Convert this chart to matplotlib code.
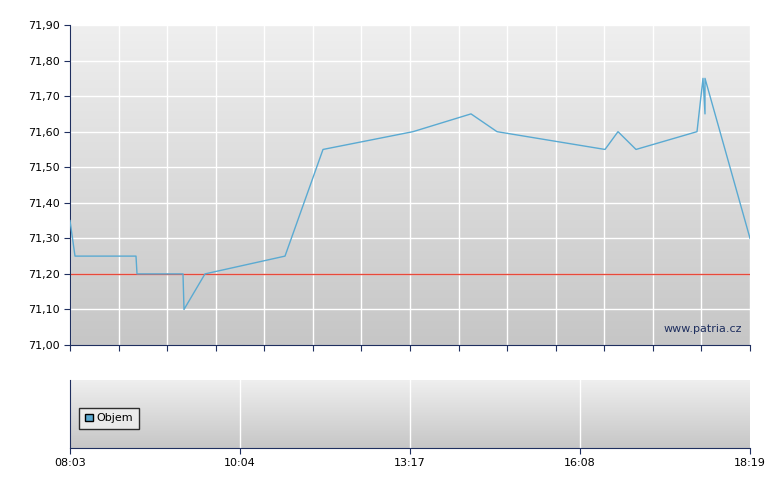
import numpy as np
import matplotlib.pyplot as plt
from matplotlib.patches import Patch
from matplotlib.colors import LinearSegmentedColormap

pos = [0, 5, 66, 67, 113, 114, 135, 215, 253, 343, 401, 427, 535, 548, 566, 627, 633, 635, 635, 680]
price = [71.35, 71.25, 71.25, 71.20, 71.20, 71.10, 71.20, 71.25, 71.55, 71.60, 71.65, 71.60,
         71.55, 71.60, 71.55, 71.60, 71.75, 71.65, 71.75, 71.30]
ref_price = 71.20
time_ticks = [0, 170, 340, 510, 680]
time_labels = ['08:03', '10:04', '13:17', '16:08', '18:19']

bg = LinearSegmentedColormap.from_list('bg', ['#efefef', '#c6c6c6'])

fig = plt.figure(figsize=(7.8, 4.9), dpi=100)
ax = fig.add_axes([70/780, 145/490, 680/780, 320/490])
ax2 = fig.add_axes([70/780, 42/490, 680/780, 68/490])

grad = np.linspace(0, 1, 256).reshape(-1, 1)
for a, ylim in ((ax, (71.0, 71.9)), (ax2, (0, 1))):
    a.imshow(grad, extent=[0, 680, ylim[0], ylim[1]], aspect='auto', cmap=bg,
             origin='upper', zorder=0)
    a.set_xlim(0, 680)
    a.set_ylim(*ylim)
    for s in ('top', 'right'):
        a.spines[s].set_visible(False)
    for s in ('left', 'bottom'):
        a.spines[s].set_color('#1f2f5f')

# main panel
for x in np.linspace(0, 680, 15):
    ax.axvline(x, color='white', lw=1, zorder=1)
for y in np.arange(71.1, 71.95, 0.1):
    ax.axhline(y, color='white', lw=1, zorder=1)
ax.axhline(ref_price, color='#e8493a', lw=1, zorder=2)
ax.plot(pos, price, color='#5aaad2', lw=1, zorder=3)
ax.set_yticks(np.arange(71.0, 71.95, 0.1))
ax.set_yticklabels([f'{v:.2f}'.replace('.', ',') for v in np.arange(71.0, 71.95, 0.1)], fontsize=8)
ax.set_xticks(np.linspace(0, 680, 15))
ax.set_xticklabels([])
ax.tick_params(direction='out', length=4, colors='#1f2f5f', labelcolor='black')
ax.text(672, 71.03, 'www.patria.cz', ha='right', va='bottom', fontsize=8, color='#1f2f5f', zorder=4)

# volume panel
for x in time_ticks[1:-1]:
    ax2.axvline(x, color='white', lw=1, zorder=1)
ax2.set_yticks([])
ax2.set_xticks(time_ticks)
ax2.set_xticklabels(time_labels, fontsize=8)
ax2.tick_params(direction='out', length=4, colors='#1f2f5f', labelcolor='black')
leg = ax2.legend(handles=[Patch(facecolor='#5aaad2', edgecolor='black', label='Objem')],
                 loc='lower left', fontsize=8, fancybox=False, handlelength=0.8,
                 handletextpad=0.3, borderpad=0.5, bbox_to_anchor=(0.005, 0.2))
leg.get_frame().set_edgecolor('black')
leg.get_frame().set_facecolor('#f0f0f0')

fig.savefig('out.png')
